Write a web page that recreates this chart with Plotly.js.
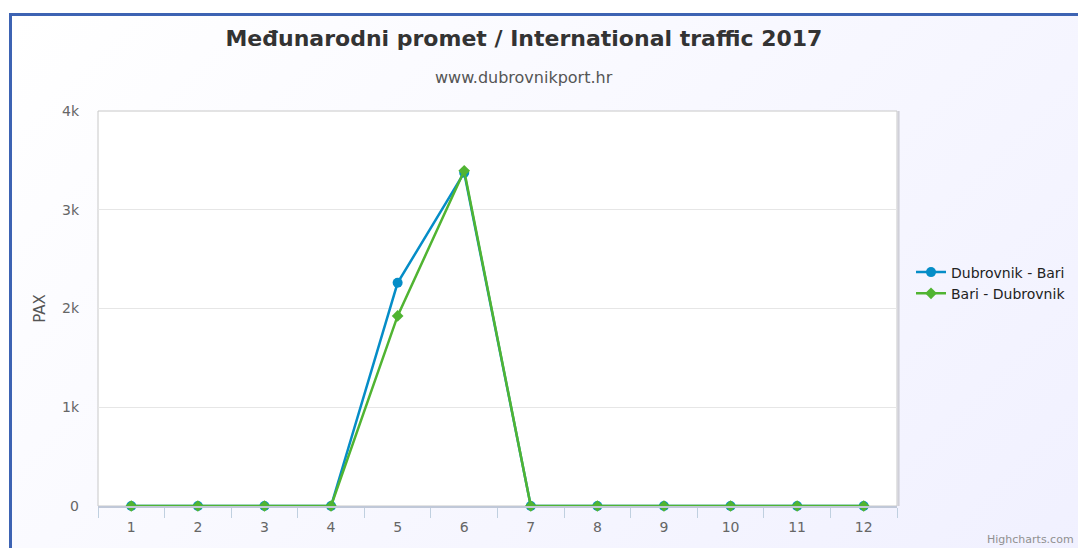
<!DOCTYPE html>
<html>
<head>
<meta charset="utf-8">
<script src="https://cdn.plot.ly/plotly-3.0.1.min.js"></script>
<style>
html,body{margin:0;padding:0;background:#fff;}
#frame{position:absolute;left:9px;top:13px;width:1100px;height:560px;border-left:3px solid #3d63b3;border-top:3px solid #3d63b3;
background:linear-gradient(135deg,#ffffff 0%,#f0f0ff 100%);}
#chart{position:absolute;left:0;top:0;width:1078px;height:548px;}
</style>
</head>
<body>
<div id="frame"></div>
<div id="chart"></div>
<script>
var months = ["1","2","3","4","5","6","7","8","9","10","11","12"];
var dubrovnikBari = [0,0,0,0,2260,3375,0,0,0,0,0,0];
var bariDubrovnik = [0,0,0,0,1925,3395,0,0,0,0,0,0];
var yTickVals = [0,1000,2000,3000,4000];
var yTickText = ["0","1k","2k","3k","4k"];

var traces = [
  {x: months, y: dubrovnikBari, name: "Dubrovnik - Bari", type: "scatter", mode: "lines+markers", cliponaxis: false,
   line: {color: "#058DC7", width: 2.5}, marker: {symbol: "circle", size: 10, color: "#058DC7"}},
  {x: months, y: bariDubrovnik, name: "Bari - Dubrovnik", type: "scatter", mode: "lines+markers", cliponaxis: false,
   line: {color: "#50B432", width: 2.5}, marker: {symbol: "diamond", size: 9, color: "#50B432"}}
];

var layout = {
  width: 1078, height: 548,
  paper_bgcolor: "rgba(0,0,0,0)", plot_bgcolor: "#ffffff",
  margin: {l: 98, r: 181, t: 111, b: 42},
  font: {family: "DejaVu Sans", color: "#666"},
  title: {text: "<b>Međunarodni promet / International traffic 2017</b>", x: 0.486, xanchor: "center", xref: "container",
          y: 1 - 38/548, yanchor: "middle", yref: "container",
          font: {family: "DejaVu Sans", size: 22, color: "#333"}},
  showlegend: true,
  legend: {xref: "container", yref: "container", x: 911/1078, y: 1 - 283/548, xanchor: "left", yanchor: "middle",
           font: {family: "DejaVu Sans", size: 14, color: "#222"}, bgcolor: "rgba(0,0,0,0)", tracegroupgap: 0},
  xaxis: {type: "category", range: [-0.5, 11.5], tickson: "boundaries", ticks: "outside", ticklen: 10, tickcolor: "#C0D0E0",
          showgrid: false, showline: true, linecolor: "#C0C8D8", linewidth: 2, mirror: false, zeroline: false,
          ticklabelstandoff: 7, tickfont: {size: 14, color: "#666"}, fixedrange: true},
  yaxis: {range: [0, 4000], tickvals: yTickVals, ticktext: yTickText, showgrid: true, gridcolor: "#e6e6e6", gridwidth: 1,
          zeroline: false, showline: false, ticks: "", ticklabelstandoff: 18,
          tickfont: {size: 14, color: "#666"},
          title: {text: "PAX", standoff: 12, font: {size: 15, color: "#555"}}},
  shapes: [
    {type: "rect", xref: "paper", yref: "paper", x0: 0, x1: 1, y0: 0, y1: 1, line: {color: "#c8c8c8", width: 1}, layer: "below"},
    {type: "line", xref: "paper", yref: "paper", x0: 1.002, x1: 1.002, y0: 0, y1: 1, line: {color: "#d0d0d8", width: 2}}
  ],
  annotations: [
    {text: "www.dubrovnikport.hr", xref: "paper", yref: "paper", x: (524-98)/799, y: (506-77)/395, xanchor: "center", yanchor: "middle",
     showarrow: false, font: {family: "DejaVu Sans", size: 16, color: "#555"}},
    {text: "Highcharts.com", xref: "paper", yref: "paper", x: (1076-98)/799, y: (506-539)/395, xanchor: "right", yanchor: "middle",
     showarrow: false, font: {family: "DejaVu Sans", size: 11, color: "#909090"}}
  ]
};

Plotly.newPlot("chart", traces, layout, {displayModeBar: false, staticPlot: true});
</script>
</body>
</html>
